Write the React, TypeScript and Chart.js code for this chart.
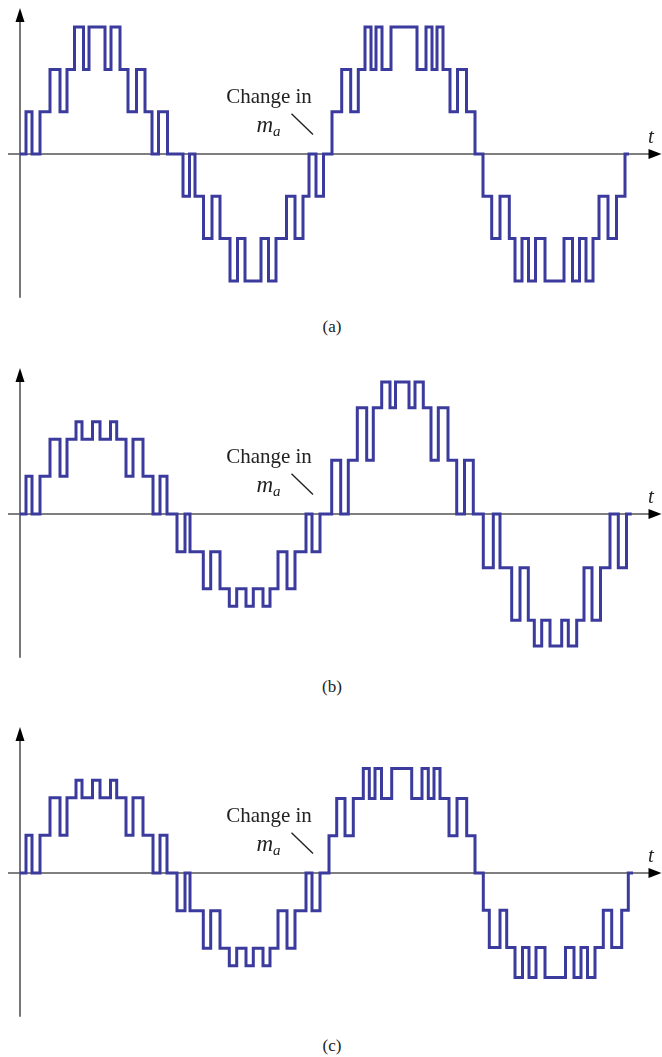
import React, { useEffect, useRef } from 'react';
import { Chart, registerables } from 'chart.js';

Chart.register(...registerables);

// ---------- data (time units along t, amplitude in per-unit levels) ----------
// Panel (a): first cycle (lower m_a) and second cycle
const timesA1 = [0, 6, 12, 20, 30, 40, 47, 54.5, 63.5, 69, 85, 91, 100, 108, 116.5, 125, 132, 138.5, 147.5,
  163, 169.5, 175, 183.5, 192, 200, 210, 217.5, 225, 241, 248.5, 256, 266.5, 275, 283, 289, 296, 303.5];
const stepsA1 = [0, 1, 0, 1, 2, 1, 2, 3, 2, 3, 2, 3, 2, 1, 2, 1, 0, 1, 0,
  -1, 0, -1, -2, -1, -2, -3, -2, -3, -2, -3, -2, -1, -2, -1, 0, -1, 0];
const timesA2 = [312, 321.7, 330.7, 338.3, 345, 351, 356, 362, 371, 397, 406, 412, 417, 423, 430, 437.5, 446.5, 455,
  463, 471.7, 480, 489.3, 495, 502, 508.5, 515.5, 525, 544, 552.5, 559.5, 566, 573, 579, 588, 596.5, 605, 609];
const stepsA2 = [1, 2, 1, 2, 3, 2, 3, 2, 3, 2, 3, 2, 3, 2, 1, 2, 1, 0,
  -1, -2, -1, -2, -3, -2, -3, -2, -3, -2, -3, -2, -3, -2, -1, -2, -1, 0, 0];
const ampA1 = [1, 2, 3];
const ampA2 = [1, 2, 3];

// Panels (b) and (c): identical first cycle
const timesBC1 = [0, 6, 12, 20, 30, 40, 47, 56, 62, 72.5, 80, 90.5, 96.7, 106, 113, 123, 133, 140, 147,
  157, 165, 170, 183.3, 190.7, 200, 209.3, 216.7, 226, 233.3, 243, 250, 258, 267, 275, 286, 292, 300];
const stepsBC1 = [0, 1, 0, 1, 2, 1, 2, 3, 2, 3, 2, 3, 2, 1, 2, 1, 0, 1, 0,
  -1, 0, -1, -2, -1, -2, -3, -2, -3, -2, -3, -2, -1, -2, -1, 0, -1, 0];

// Panel (b): second cycle
const timesB2 = [311.7, 320.7, 328.3, 337.3, 346.7, 353.3, 361.7, 370, 375.5, 389, 395, 403.3, 411, 418.3, 428, 436.7, 444.5, 453.3,
  463.3, 473.3, 480, 491.7, 500, 508.3, 514.3, 521.7, 530, 541.7, 548.3, 556.7, 564, 572, 580.5, 590, 598.3, 606.5, 611.7];
const stepsB2 = [1, 0, 1, 2, 1, 2, 3, 2, 3, 2, 3, 2, 1, 2, 1, 0, 1, 0,
  -1, 0, -1, -2, -1, -2, -3, -2, -3, -2, -3, -2, -1, -2, -1, 0, -1, 0, 0];
const ampB1 = [0.89, 1.77, 2.18];
const ampB2 = [1.27, 2.51, 3.12];

// Panel (c): second cycle
const timesC2 = [309, 316.7, 325, 333.3, 343.3, 349.3, 355, 361.5, 371.7, 391.7, 402, 408.3, 414, 420, 429, 437, 446.7, 455,
  463.3, 469.3, 480, 486.7, 495, 502.5, 509, 516, 525, 545.5, 554, 561, 567.5, 575, 583.3, 591.7, 601.7, 608.3, 613];
const stepsC2 = [1, 2, 1, 2, 3, 2, 3, 2, 3, 2, 3, 2, 3, 2, 1, 2, 1, 0,
  -1, -2, -1, -2, -3, -2, -3, -2, -3, -2, -3, -2, -3, -2, -1, -2, -1, 0, 0];
const ampC1 = [0.89, 1.78, 2.19];
const ampC2 = [0.88, 1.76, 2.47];

const captions = ['(a)', '(b)', '(c)'];

// ---------- helpers ----------
const levelValue = (s: number, amp: number[]) => (s === 0 ? 0 : Math.sign(s) * amp[Math.abs(s) - 1]);

function buildPoints(cycles: { times: number[]; steps: number[]; amp: number[] }[]) {
  const pts: { x: number; y: number }[] = [];
  cycles.forEach((c) => c.times.forEach((t, i) => pts.push({ x: t, y: levelValue(c.steps[i], c.amp) })));
  return pts;
}

const panels = [
  buildPoints([{ times: timesA1, steps: stepsA1, amp: ampA1 }, { times: timesA2, steps: stepsA2, amp: ampA2 }]),
  buildPoints([{ times: timesBC1, steps: stepsBC1, amp: ampB1 }, { times: timesB2, steps: stepsB2, amp: ampB2 }]),
  buildPoints([{ times: timesBC1, steps: stepsBC1, amp: ampC1 }, { times: timesC2, steps: stepsC2, amp: ampC2 }]),
];

const WAVE_COLOR = '#3b3b9e';
const AXIS_COLOR = '#555555';
const SERIF = '"Liberation Serif", "Times New Roman", serif';

const figurePlugin = {
  id: 'figure',
  beforeDatasetsDraw(chart: any) {
    const { ctx, scales } = chart;
    const xs = scales.x, ys = scales.y;
    const x0 = xs.getPixelForValue(0);
    const y0 = ys.getPixelForValue(0);
    const xL = xs.getPixelForValue(-12);
    const xR = xs.getPixelForValue(641.5);
    const yT = ys.getPixelForValue(3.45);
    const yB = ys.getPixelForValue(-3.4);
    ctx.save();
    ctx.strokeStyle = AXIS_COLOR;
    ctx.lineWidth = 1.6;
    ctx.beginPath();
    ctx.moveTo(xL, y0);
    ctx.lineTo(xR - 10, y0);
    ctx.moveTo(x0, yB);
    ctx.lineTo(x0, yT + 10);
    ctx.stroke();
    ctx.fillStyle = '#000';
    ctx.beginPath();
    ctx.moveTo(xR, y0);
    ctx.lineTo(xR - 13, y0 - 5);
    ctx.lineTo(xR - 13, y0 + 5);
    ctx.closePath();
    ctx.fill();
    ctx.beginPath();
    ctx.moveTo(x0, yT);
    ctx.lineTo(x0 - 4.5, yT + 14);
    ctx.lineTo(x0 + 4.5, yT + 14);
    ctx.closePath();
    ctx.fill();
    ctx.restore();
  },
  afterDatasetsDraw(chart: any) {
    const { ctx, scales } = chart;
    const xs = scales.x, ys = scales.y;
    ctx.save();
    ctx.fillStyle = '#222';
    ctx.textBaseline = 'alphabetic';
    // "Change in"
    ctx.font = `21px ${SERIF}`;
    ctx.textAlign = 'center';
    ctx.fillText('Change in', xs.getPixelForValue(249), ys.getPixelForValue(1.2));
    // m_a
    ctx.textAlign = 'left';
    ctx.font = `italic 23px ${SERIF}`;
    const mx = xs.getPixelForValue(236.5);
    const my = ys.getPixelForValue(0.52);
    ctx.fillText('m', mx, my);
    const mw = ctx.measureText('m').width;
    ctx.font = `italic 15px ${SERIF}`;
    ctx.fillText('a', mx + mw, my + 4);
    // pointer
    ctx.strokeStyle = '#222';
    ctx.lineWidth = 1.4;
    ctx.beginPath();
    ctx.moveTo(xs.getPixelForValue(271.5), ys.getPixelForValue(0.95));
    ctx.lineTo(xs.getPixelForValue(293), ys.getPixelForValue(0.46));
    ctx.stroke();
    // t label
    ctx.font = `italic 21px ${SERIF}`;
    ctx.textAlign = 'center';
    ctx.fillText('t', xs.getPixelForValue(631), ys.getPixelForValue(0.26));
    ctx.restore();
  },
};

function Panel({ data, top, caption }: { data: { x: number; y: number }[]; top: number; caption: string }) {
  const ref = useRef<HTMLCanvasElement | null>(null);
  useEffect(() => {
    if (!ref.current) return;
    const chart = new Chart(ref.current, {
      type: 'line',
      data: {
        datasets: [
          {
            data,
            stepped: 'before',
            borderColor: WAVE_COLOR,
            borderWidth: 3,
            borderJoinStyle: 'miter',
            borderCapStyle: 'butt',
            pointRadius: 0,
            fill: false,
            tension: 0,
          } as any,
        ],
      },
      options: {
        animation: false,
        responsive: false,
        maintainAspectRatio: false,
        layout: { padding: 0 },
        events: [],
        plugins: { legend: { display: false }, tooltip: { enabled: false } },
        scales: {
          x: { type: 'linear', display: false, min: -20, max: 642 },
          y: { type: 'linear', display: false, min: -3.688, max: 3.641 },
        },
      },
      plugins: [figurePlugin],
    });
    return () => chart.destroy();
  }, [data]);
  return (
    <>
      <canvas ref={ref} width={662} height={310} style={{ position: 'absolute', left: 0, top, width: 662, height: 310 }} />
      <div
        style={{
          position: 'absolute',
          left: 0,
          top: top + 318,
          width: 664,
          textAlign: 'center',
          fontFamily: SERIF,
          fontSize: 17,
          lineHeight: '18px',
          color: '#222',
        }}
      >
        {caption}
      </div>
    </>
  );
}

export default function App() {
  const tops = [0, 360, 719];
  return (
    <div style={{ position: 'absolute', left: 0, top: 0, width: 662, height: 1057, background: '#fff' }}>
      {panels.map((d, i) => (
        <Panel key={i} data={d} top={tops[i]} caption={captions[i]} />
      ))}
    </div>
  );
}
